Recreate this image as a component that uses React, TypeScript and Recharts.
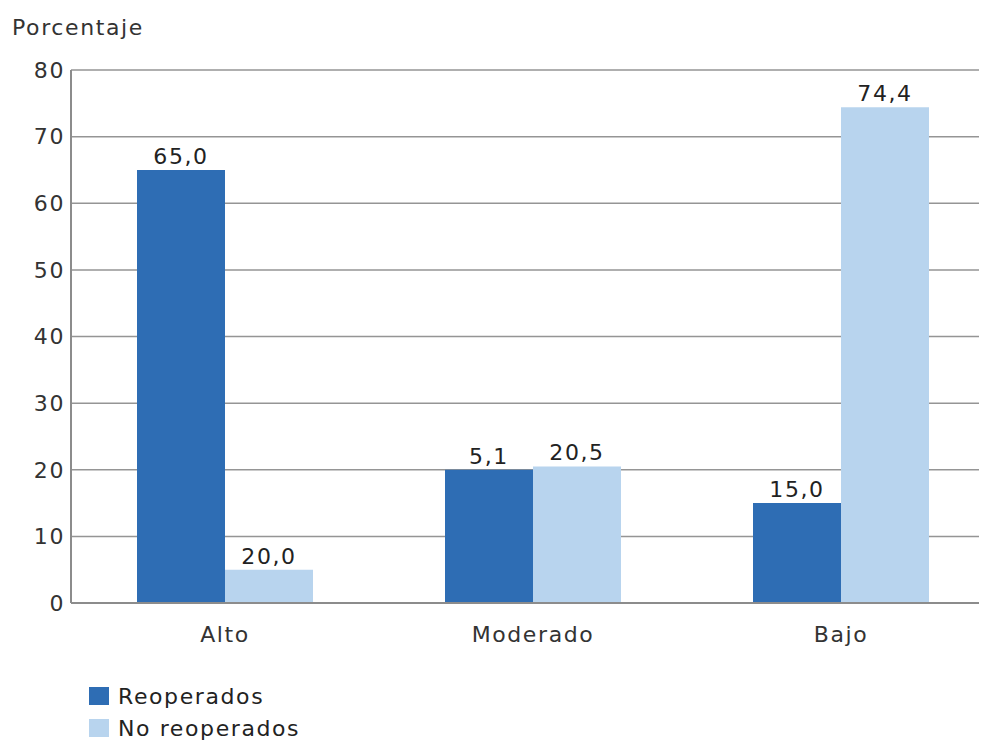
import { Bar, BarChart, CartesianGrid, LabelList, Legend, XAxis, YAxis } from "recharts";

const categories = ["Alto", "Moderado", "Bajo"];
const reoperados = [65, 20, 15];
const noReoperados = [5, 20.5, 74.4];
// value labels as printed in the source (they do not always match bar height)
const reoperadosLabels = ["65,0", "5,1", "15,0"];
const noReoperadosLabels = ["20,0", "20,5", "74,4"];
const yTicks = [0, 10, 20, 30, 40, 50, 60, 70, 80];
const seriesNames = ["Reoperados", "No reoperados"];
const seriesColors = ["#2e6db4", "#b8d4ee"];

const FONT = '"DejaVu Sans", Verdana, sans-serif';
const FS = 22;
const LS = 1.6;

const data = categories.map((c, i) => ({
    category: c,
    reoperados: reoperados[i],
    noReoperados: noReoperados[i],
    labelA: reoperadosLabels[i],
    labelB: noReoperadosLabels[i],
}));

const makeLabel = (labels: string[]) => (props: any) => {
    const { x, y, width, index } = props;
    return (
        <text
            x={Number(x) + Number(width) / 2}
            y={Number(y) - 6}
            textAnchor="middle"
            fill="#222"
            fontSize={FS}
            fontFamily={FONT}
            letterSpacing={LS}
        >
            {labels[index]}
        </text>
    );
};

const LegendBox = () => (
    <div style={{ fontFamily: FONT, fontSize: FS, letterSpacing: LS, color: "#222", height: 64 }}>
        {seriesNames.map((name, i) => (
            <div key={name} style={{ display: "flex", alignItems: "center", height: 32 }}>
                <div style={{ width: 20, height: 18, background: seriesColors[i], marginRight: 9 }} />
                <span>{name}</span>
            </div>
        ))}
    </div>
);

const App = () => {
    return (
        <div style={{ width: 979, height: 734, overflow: "hidden", background: "#fff" }}>
            <BarChart
                width={1000}
                height={734}
                data={data}
                margin={{ top: 62, right: 13, left: 0, bottom: 35 }}
                barSize={88}
                barGap={0}
            >
                <CartesianGrid horizontal vertical={false} stroke="#959595" strokeWidth={1.5} />
                <XAxis
                    dataKey="category"
                    height={40}
                    axisLine={{ stroke: "#8c8c8c", strokeWidth: 2 }}
                    tickLine={false}
                    tickSize={0}
                    tickMargin={23}
                    tick={{ fill: "#333", fontSize: FS, fontFamily: FONT, letterSpacing: LS }}
                />
                <YAxis
                    width={63}
                    domain={[0, 80]}
                    ticks={yTicks}
                    axisLine={{ stroke: "#8c8c8c", strokeWidth: 2 }}
                    tickLine={false}
                    tickSize={4}
                    tickMargin={2}
                    tick={{ fill: "#333", fontSize: FS, fontFamily: FONT, letterSpacing: LS }}
                    label={{
                        value: "Porcentaje",
                        content: () => (
                            <text x={4} y={27} fill="#333" fontSize={FS} fontFamily={FONT} letterSpacing={LS}>
                                Porcentaje
                            </text>
                        ),
                    }}
                />
                <Legend
                    content={<LegendBox />}
                    verticalAlign="bottom"
                    wrapperStyle={{ left: 81, top: 672, width: 320, height: 64 }}
                />
                <Bar dataKey="reoperados" name={seriesNames[0]} fill={seriesColors[0]} isAnimationActive={false}>
                    <LabelList dataKey="labelA" content={makeLabel(reoperadosLabels)} />
                </Bar>
                <Bar dataKey="noReoperados" name={seriesNames[1]} fill={seriesColors[1]} isAnimationActive={false}>
                    <LabelList dataKey="labelB" content={makeLabel(noReoperadosLabels)} />
                </Bar>
            </BarChart>
        </div>
    );
};

export default App;
